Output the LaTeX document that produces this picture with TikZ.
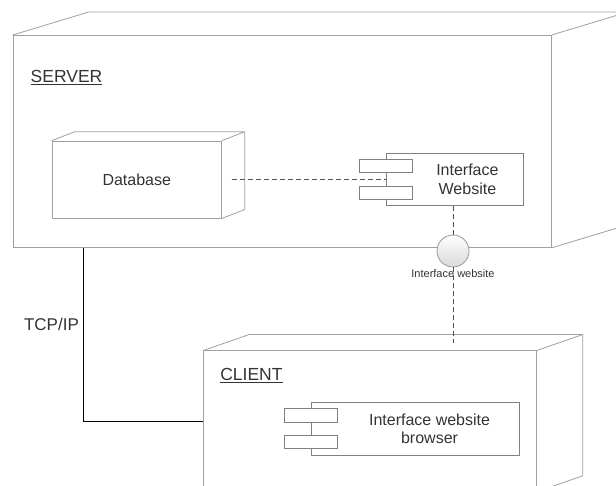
\documentclass[tikz,border=0pt]{standalone}
\usepackage{fontspec}
\setmainfont{Liberation Sans}
\usetikzlibrary{calc,positioning}
\definecolor{edge}{HTML}{A0A0A0}
\definecolor{ink}{HTML}{333333}

\begin{document}
\begin{tikzpicture}[x=1pt, y=-1pt,
    every node/.style={font=\fontsize{16}{18.5}\selectfont, text=ink},
    box/.style={rectangle, draw=edge, line width=0.8pt, inner sep=0pt, anchor=north west},
    comp/.style={rectangle, draw=gray, line width=0.8pt, inner sep=0pt, anchor=north west},
    port/.style={rectangle, draw=gray, fill=white, line width=0.8pt, inner sep=0pt,
      minimum width=53.4pt, minimum height=13.3pt},
    title/.style={anchor=base west, font=\fontsize{17.5}{20}\selectfont},
    link/.style={draw=ink!85, line width=0.8pt, dash pattern=on 5pt off 3pt},
    wire/.style={draw=black, line width=0.9pt}]
  \useasboundingbox (0,0) rectangle (616,486);
  \clip (0,0) rectangle (616,486);
  % nodes
  \node[box, minimum width=538.3pt, minimum height=212pt] (server) at (12.7,35) {};
  \node[box, minimum width=169.3pt, minimum height=77pt] (database) at (51.7,140.7) {Database};
  \node[box, minimum width=332.7pt, minimum height=140.5pt] (client) at (203.3,350.5) {};
  \foreach \n/\dx/\dy in {server/76/-23, database/23/-9, client/46/-16}
    \draw[edge, line width=0.8pt] (\n.north west) -- ++(\dx,\dy)
      -- ($(\n.north east)+(\dx,\dy)$) -- ($(\n.south east)+(\dx,\dy)$) -- (\n.south east)
      (\n.north east) -- ++(\dx,\dy);
  \node[title] at ([shift={(14.5,48)}]server.north west) {\underline{SERVER}};
  \node[title] at ([shift={(13.5,30.5)}]client.north west) {\underline{CLIENT}};
  % components
  \node[comp, minimum width=137pt, minimum height=52.6pt] (iweb) at (386,152.7) {};
  \node[align=center] at ([xshift=12.5pt]iweb.center) {Interface\\Website};
  \node[comp, minimum width=208.3pt, minimum height=53.3pt] (browser) at (311,401.7) {};
  \node[align=center] at ([xshift=14pt]browser.center) {Interface website\\browser};
  \foreach \c in {iweb, browser}
    \foreach \s in {-13.3,13.3}
      \node[port] at ([yshift=\s pt]\c.west) {};
  % interface
  \node[circle, draw=gray!80, line width=0.8pt, minimum size=32pt, inner sep=0pt,
    top color=white, bottom color=gray!30,
    label={[font=\fontsize{11}{13}\selectfont, inner sep=2pt]below:Interface website}] (iface) at (453,251) {};
  % connectors
  \draw[link, shorten <=10pt] (database.east) -- (iweb.west);
  \draw[link] (iweb.south -| iface) -- (iface.north);
  \draw[link, shorten >=7.5pt] (iface.south) -- (client.north -| iface);
  \coordinate (tcp) at (83.3,300);
  \draw[wire] (tcp |- server.south) |- node[pos=.22, left, inner sep=4pt,
    font=\fontsize{17}{20}\selectfont] {TCP/IP} (client.west);
\end{tikzpicture}
\end{document}
